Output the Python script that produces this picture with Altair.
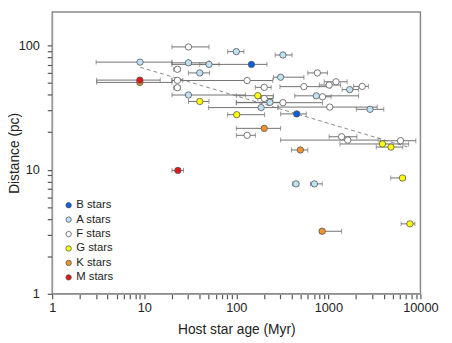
import altair as alt
import pandas as pd

# ---- data ----
categories = ["B stars", "A stars", "F stars", "G stars", "K stars", "M stars"]
colors = ["#0a5fe0", "#bfe2f5", "#ffffff", "#ffff00", "#f0922e", "#e3141a"]

spectral = (["B stars"] * 2 + ["A stars"] * 15 + ["F stars"] * 19 +
            ["G stars"] * 7 + ["K stars"] * 4 + ["M stars"] * 2)

age = [146, 453,
       9.0, 100, 321, 30.2, 50.5, 40.1, 303, 30.2, 232, 186, 1706, 740, 2837, 445, 705,
       30.2, 22.9, 22.9, 22.9, 131, 201, 201, 759, 542, 1019, 1210, 2331, 864, 321, 1036,
       131, 1392, 1624, 6074,
       171, 40.1, 101, 3866, 4786, 6379, 7690,
       201, 8.96, 496, 858,
       8.96, 23.2]

age_lo = [20, 303,
          3.0, 80.5, 264, 20, 40, 30.2, 253, 20, 100, 50, 1412, 431, 2012, 407, 639,
          20, 20.9, 20, 20.9, 20, 161, 171, 598, 298, 797, 901, 1882, 705, 100, 284,
          100, 1019, 303, 3627,
          100, 30.2, 80.5, 1335, 3311, 4752, 6164,
          100, 3.04, 398, 797,
          3.04, 20.0]

age_hi = [215, 575,
          20, 121, 404, 50.5, 65, 51.3, 542, 126, 337, 282, 2128, 2128, 4000, 476, 858,
          50.5, 24.5, 26.2, 24.5, 249, 239, 250, 977, 1050, 1358, 1597, 2721, 1070, 864, 3394,
          161, 2041, 3478, 8912,
          253, 50.5, 203, 7447, 6427, 6800, 8696,
          303, 20, 598, 1392,
          14.9, 26.7]

distance = [70.4, 28.1,
            73.4, 89.2, 83.8, 72.5, 70.4, 60.1, 55.5, 39.9, 34.8, 31.6, 44.1, 39.3, 30.6, 7.68, 7.68,
            97.3, 64.3, 52.4, 45.7, 52.2, 46.0, 37.4, 60.1, 46.6, 48.0, 51.0, 46.8, 38.6, 34.6, 31.9,
            18.9, 18.4, 17.3, 17.1,
            39.4, 35.4, 27.7, 16.1, 15.2, 8.57, 3.66,
            21.5, 50.4, 14.4, 3.19,
            52.6, 9.86]

trend_age = [9.05, 7575]
trend_dist = [66.7, 15.1]

x_ticks = [m * 10 ** e for e in range(4) for m in range(1, 10)] + [10000]
y_ticks = [m * 10 ** e for e in range(2) for m in range(1, 10)] + [100]

df = pd.DataFrame({"type": spectral, "age": age, "lo": age_lo, "hi": age_hi, "dist": distance})
df_trend = pd.DataFrame({"age": trend_age, "dist": trend_dist})

FONT = "Liberation Sans"
label_expr = "abs(log(datum.value)/LN10 - round(log(datum.value)/LN10)) < 1e-6 ? format(datum.value, 'd') : ''"

xs = alt.Scale(type="log", domain=[1, 10000], nice=False)
ys = alt.Scale(type="log", domain=[1, 186], nice=False)

x_axis = alt.Axis(values=x_ticks, tickCount=100, labelExpr=label_expr, title="Host star age (Myr)",
                  grid=False, tickSize=5, tickWidth=1.2, labelFlush=False, labelOverlap=False,
                  domainColor="#999999", tickColor="#555555", labelColor="#222222",
                  titleColor="#222222", labelFont=FONT, titleFont=FONT, labelFontSize=13,
                  titleFontSize=14, titleFontWeight="normal", labelPadding=3, titlePadding=8)
y_axis = alt.Axis(values=y_ticks, tickCount=100, labelExpr=label_expr, title="Distance (pc)",
                  grid=False, tickSize=5, tickWidth=1.2, labelFlush=False, labelOverlap=False,
                  domainColor="#999999", tickColor="#555555", labelColor="#222222",
                  titleColor="#222222", labelFont=FONT, titleFont=FONT, labelFontSize=13,
                  titleFontSize=14, titleFontWeight="normal", labelPadding=8,
                  titleX=-31, titleBaseline="bottom")


def X(field):
    return alt.X(field, scale=xs, axis=x_axis)


def Y(field):
    return alt.Y(field, scale=ys, axis=y_axis)


base = alt.Chart(df)

trend = alt.Chart(df_trend).mark_line(strokeDash=[4, 3], color="#8a8a8a", strokeWidth=1).encode(
    x=X("age:Q"), y=Y("dist:Q"))

bars = base.mark_rule(color="#707070", strokeWidth=1).encode(
    x=X("lo:Q"), x2="hi:Q", y=Y("dist:Q"))
cap_lo = base.mark_tick(orient="vertical", size=5, thickness=1, color="#707070").encode(
    x=X("lo:Q"), y=Y("dist:Q"))
cap_hi = base.mark_tick(orient="vertical", size=5, thickness=1, color="#707070").encode(
    x=X("hi:Q"), y=Y("dist:Q"))

points = base.mark_circle(size=42, opacity=1, stroke="#555555", strokeWidth=0.8).encode(
    x=X("age:Q"),
    y=Y("dist:Q"),
    color=alt.Color("type:N", scale=alt.Scale(domain=categories, range=colors),
                    legend=alt.Legend(title=None, orient="none", legendX=11, legendY=191,
                                      symbolType="circle", symbolSize=30,
                                      symbolStrokeColor="#555555", symbolStrokeWidth=0.8,
                                      labelFont=FONT, labelFontSize=11.5, labelColor="#222222",
                                      rowPadding=1.7, labelOffset=2, padding=0)),
)

chart = alt.layer(trend, bars, cap_lo, cap_hi, points).properties(
    width=375, height=287,
    autosize=alt.AutoSizeParams(type="none"),
    padding={"left": 45, "top": 1, "right": 24, "bottom": 46},
).configure_view(stroke="#8a8a8a", strokeWidth=1.5)

chart.save("out.html", embed_options={"renderer": "svg", "actions": False})
